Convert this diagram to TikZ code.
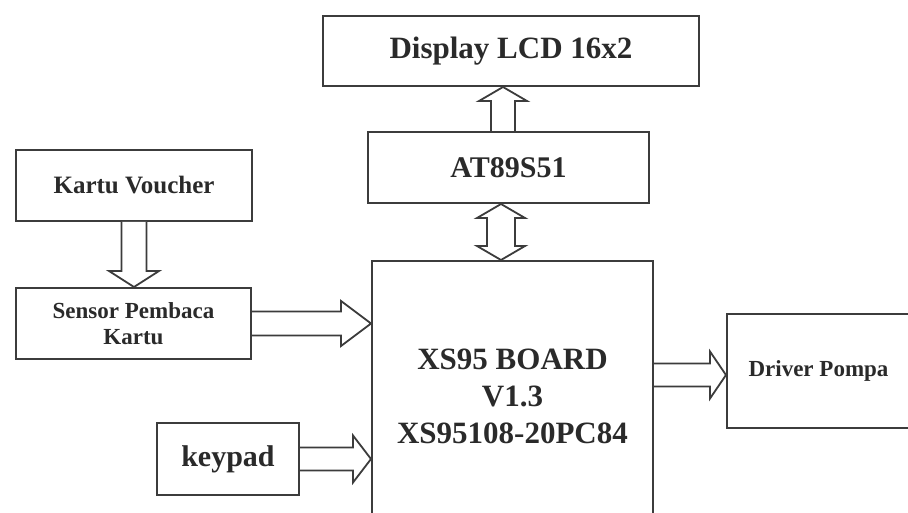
\documentclass[tikz,border=0pt]{standalone}
\usepackage{fontspec}
\setmainfont{Liberation Serif}
\usetikzlibrary{calc}
\definecolor{ln}{HTML}{3C3C3C}
\definecolor{tx}{HTML}{2A2A2A}
\tikzset{
  box/.style={draw=ln, line width=2pt, rectangle, inner sep=0pt, align=center,
              text=tx, font=\bfseries},
  blk/.style={draw=ln, line width=1.8pt, line join=miter, fill=white}
}
% horizontal arrow to the right: start, end, shaft half, head half, head length
\newcommand{\harr}[5]{\draw[blk] let \p1=(#1), \p2=(#2) in
  (\x1,\y1+#3) -- (\x2-#5,\y1+#3) -- (\x2-#5,\y1+#4) -- (\x2,\y1) --
  (\x2-#5,\y1-#4) -- (\x2-#5,\y1-#3) -- (\x1,\y1-#3);}
% vertical arrow upward (canvas up)
\newcommand{\uarr}[5]{\draw[blk] let \p1=(#1), \p2=(#2) in
  (\x1-#3,\y1) -- (\x1-#3,\y2-#5) -- (\x1-#4,\y2-#5) -- (\x1,\y2) --
  (\x1+#4,\y2-#5) -- (\x1+#3,\y2-#5) -- (\x1+#3,\y1);}
% vertical arrow downward
\newcommand{\darr}[5]{\draw[blk] let \p1=(#1), \p2=(#2) in
  (\x1-#3,\y1) -- (\x1-#3,\y2+#5) -- (\x1-#4,\y2+#5) -- (\x1,\y2) --
  (\x1+#4,\y2+#5) -- (\x1+#3,\y2+#5) -- (\x1+#3,\y1);}
% double vertical arrow (start lower, end upper)
\newcommand{\udarr}[5]{\draw[blk] let \p1=(#1), \p2=(#2) in
  (\x1,\y1) -- (\x1-#4,\y1+#5) -- (\x1-#3,\y1+#5) -- (\x1-#3,\y2-#5) --
  (\x1-#4,\y2-#5) -- (\x1,\y2) -- (\x1+#4,\y2-#5) -- (\x1+#3,\y2-#5) --
  (\x1+#3,\y1+#5) -- (\x1+#4,\y1+#5) -- cycle;}
\begin{document}
\begin{tikzpicture}[x=1pt,y=-1pt]
\useasboundingbox (0,0) rectangle (908,513);
\clip (0,0) rectangle (908,513);
\fill[white] (0,0) rectangle (908,513);

\node[box, minimum width=376pt, minimum height=70pt, font=\bfseries\fontsize{31}{36}\selectfont]
  (disp) at (511,51) {Display LCD 16x2};
\node[box, minimum width=281pt, minimum height=71pt, font=\bfseries\fontsize{30}{36}\selectfont]
  (at) at (508.5,167.5) {AT89S51};
\node[box, minimum width=236pt, minimum height=71pt, font=\bfseries\fontsize{25}{30}\selectfont]
  (kv) at (134,185.5) {Kartu Voucher};
\node[box, minimum width=235pt, minimum height=71pt, font=\bfseries\fontsize{23}{26}\selectfont]
  (sensor) at (133.5,323.5) {Sensor Pembaca\\Kartu};
\node[box, minimum width=142pt, minimum height=72pt, font=\bfseries\fontsize{30}{36}\selectfont]
  (keypad) at (228,459) {keypad};
\node[box, minimum width=281pt, minimum height=270pt, font=\bfseries\fontsize{31}{37}\selectfont]
  (xs) at (512.5,396) {XS95 BOARD\\V1.3\\XS95108-20PC84};
\node[box, minimum width=183pt, minimum height=114pt, font=\bfseries\fontsize{23}{28}\selectfont]
  (driver) at (818.5,371) {Driver Pompa};

\coordinate (a1) at ([xshift=-5.5pt]at.north);
\coordinate (a2) at ([xshift=-11.5pt]xs.north);
\coordinate (a3) at ([yshift=-4pt]xs.east |- driver.west);

\uarr{a1}{disp.south}{12pt}{24pt}{14pt}
\udarr{a2}{at.south}{14pt}{24pt}{14pt}
\darr{kv.south}{sensor.north}{12.5pt}{25pt}{16pt}
\harr{sensor.east}{xs.west}{12pt}{22.5pt}{30pt}
\harr{keypad.east}{xs.west}{11.5pt}{23.5pt}{18pt}
\harr{a3}{driver.west}{11.5pt}{23.5pt}{16pt}
\end{tikzpicture}
\end{document}
